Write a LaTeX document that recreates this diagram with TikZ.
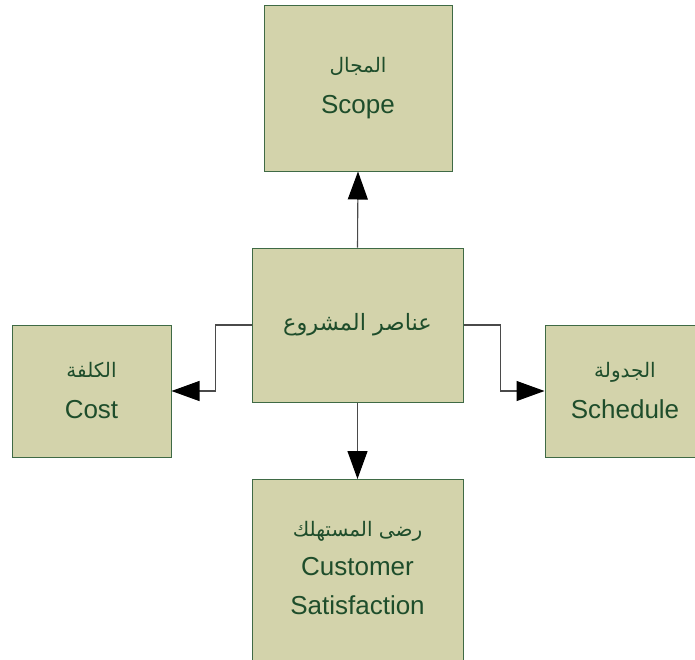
\documentclass[tikz,border=0pt]{standalone}
\usepackage{fontspec}
\setmainfont{Liberation Sans}
\newfontfamily\arabicfont[Script=Arabic]{DejaVu Sans}
\TeXXeTstate=1
\usetikzlibrary{arrows.meta}
\definecolor{boxfill}{HTML}{D3D3AB}
\definecolor{boxline}{HTML}{3F6A45}
\definecolor{textgreen}{HTML}{1E4D2B}
\definecolor{linkgray}{HTML}{4A4A4A}
\newcommand{\ar}[1]{{\arabicfont\fontsize{20}{41}\selectfont\beginR #1\endR}}
\tikzset{
  box/.style={draw=boxline, fill=boxfill, line width=1pt, rectangle,
    inner sep=0pt, text=textgreen, align=center,
    font=\fontsize{26}{41}\selectfont},
  conn/.style={draw=linkgray, line width=1.1pt,
    -{Triangle[length=28pt,width=20pt,fill=black,color=black]}},
}
\begin{document}
\begin{tikzpicture}[x=1pt,y=-1pt]
  \useasboundingbox (0,0) rectangle (695,659);
  \clip (0,0) rectangle (695,659);
  % centre box and its four satellites
  \node[box, minimum width=211pt, minimum height=154pt] (core) at (357.5,325)
    {{\arabicfont\fontsize{22.5}{30}\selectfont\beginR عناصر المشروع\endR}};
  \node[box, minimum width=188pt, minimum height=166pt] (scope) at (358,88)
    {\ar{المجال}\\Scope};
  \node[box, minimum width=159pt, minimum height=132pt] (cost) at (91.5,391)
    {\ar{الكلفة}\\Cost};
  \node[box, minimum width=160pt, minimum height=132pt] (sched) at (625,391)
    {\ar{الجدولة}\\Schedule};
  \node[box, minimum width=211pt, minimum height=200pt, anchor=north] (cust) at (357.5,479) {};
  \node[text=textgreen, align=center, font=\fontsize{26}{39}\selectfont] (custtext) at (357.5,568)
    {\ar{رضى المستهلك}\\Customer\\Satisfaction};
  % connectors
  \draw[conn] (core.north) -- (scope.south);
  \draw[conn] (core.south) -- (cust.north);
  \draw[conn] (core.west) -- ++(-36,0) |- (cost.east);
  \draw[conn] (core.east) -- ++(37,0) |- (sched.west);
\end{tikzpicture}
\end{document}
